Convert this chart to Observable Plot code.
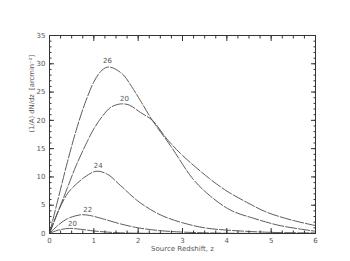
<!DOCTYPE html>
<html><head><meta charset="utf-8">
<script src="https://cdn.jsdelivr.net/npm/d3@7"></script>
<script src="https://cdn.jsdelivr.net/npm/@observablehq/plot@0.6"></script>
<style>body{margin:0;background:#fff}</style>
</head><body><div id="chart"></div>
<script>
// Curves: (z, value) per magnitude label
const z26 = [0, 0.2, 0.4, 0.6, 0.8, 1.0, 1.15, 1.3, 1.45, 1.67, 1.85, 2.05, 2.32, 2.73, 3.23, 3.6, 4.09, 4.6, 5.2, 6.0];
const v26 = [0, 6.3, 12.5, 18.2, 23, 26.8, 28.6, 29.4, 29.2, 28.0, 26.0, 23.5, 20, 15.5, 9.7, 6.8, 4.1, 2.7, 1.4, 0.4];
const z20b = [0, 0.2, 0.4, 0.6, 0.86, 1.0, 1.2, 1.38, 1.6, 1.8, 2.05, 2.32, 2.66, 3.0, 3.61, 4.0, 4.5, 4.92, 5.5, 6.0];
const v20b = [0, 4, 8, 12, 16.4, 18.5, 20.8, 22.3, 22.9, 22.7, 21.4, 20.0, 16.6, 13.8, 9.7, 7.5, 5.3, 3.7, 2.3, 1.4];
const z24 = [0, 0.2, 0.4, 0.52, 0.8, 1.05, 1.3, 1.6, 2.0, 2.5, 3.0, 3.5, 4.0, 5.0, 6.0];
const v24 = [0, 4, 7, 8.1, 10, 11, 10.5, 8.5, 5.7, 3.3, 1.9, 1.0, 0.6, 0.2, 0.1];
const z22 = [0, 0.2, 0.4, 0.7, 0.9, 1.2, 1.6, 2.0, 2.5, 3.0, 4.0, 6.0];
const v22 = [0, 1.5, 2.6, 3.3, 3.2, 2.6, 1.7, 1.0, 0.5, 0.25, 0.05, 0];
const z20a = [0, 0.2, 0.45, 0.7, 1.0, 1.5, 2.0, 3.0, 6.0];
const v20a = [0, 0.6, 0.9, 0.75, 0.45, 0.15, 0.05, 0, 0];

const labelText = ["26", "20", "24", "22", "20"];
const labelZ = [1.31, 1.69, 1.1, 0.86, 0.52];
const labelV = [30.6, 23.8, 12.0, 4.2, 1.8];

const xTicks = [0, 1, 2, 3, 4, 5, 6];
const yTicks = [0, 5, 10, 15, 20, 25, 30, 35];
const xMinor = d3.range(0, 6.001, 0.25);
const yMinor = d3.range(0, 35.001, 1);

const series = [["26", z26, v26], ["20b", z20b, v20b], ["24", z24, v24], ["22", z22, v22], ["20a", z20a, v20a]];
const rows = series.flatMap(([k, zs, vs]) => zs.map((z, i) => ({k, z, v: vs[i]})));
const labels = labelText.map((t, i) => ({t, z: labelZ[i], v: labelV[i]}));

const ink = "#333";
const txt = "#555";
const plot = Plot.plot({
  width: 350, height: 261,
  marginLeft: 49, marginRight: 35, marginTop: 35, marginBottom: 28,
  style: {fontFamily: "DejaVu Sans, sans-serif", fontSize: "7px", color: txt, background: "#fff"},
  x: {domain: [0, 6]},
  y: {domain: [0, 35]},
  marks: [
    Plot.line(rows, {x: "z", y: "v", z: "k", stroke: "#4a4a4a", strokeWidth: 0.9, strokeDasharray: "11,2", curve: "catmull-rom"}),
    Plot.text(labels, {x: "z", y: "v", text: "t", fill: txt, fontSize: 7}),
    Plot.frame({stroke: ink}),
    Plot.axisX({ticks: xTicks, tickSize: -5, tickPadding: 10, tickFormat: d => d, stroke: ink, fill: txt, label: null}),
    Plot.axisX({ticks: xMinor, tickSize: -2.5, tickFormat: () => "", stroke: ink, label: null}),
    Plot.axisX({anchor: "top", ticks: xTicks, tickSize: -5, tickFormat: () => "", stroke: ink, label: null}),
    Plot.axisX({anchor: "top", ticks: xMinor, tickSize: -2.5, tickFormat: () => "", stroke: ink, label: null}),
    Plot.axisY({ticks: yTicks, tickSize: -5, tickPadding: 9, tickFormat: d => d, stroke: ink, fill: txt, label: null}),
    Plot.axisY({ticks: yMinor, tickSize: -2.5, tickFormat: () => "", stroke: ink, label: null}),
    Plot.axisY({anchor: "right", ticks: yTicks, tickSize: -5, tickFormat: () => "", stroke: ink, label: null}),
    Plot.axisY({anchor: "right", ticks: yMinor, tickSize: -2.5, tickFormat: () => "", stroke: ink, label: null}),
    Plot.text(["Source Redshift, z"], {frameAnchor: "bottom", dy: 13, lineAnchor: "top", fill: txt, fontSize: 7}),
    Plot.text(["(1/A) dN/dz\u00a0\u00a0[arcmin\u207b\u00b2]"], {frameAnchor: "left", dx: -18, dy: -2, rotate: -90, fill: txt, fontSize: 6.8})
  ]
});
document.getElementById("chart").appendChild(plot);
</script>
</body></html>
